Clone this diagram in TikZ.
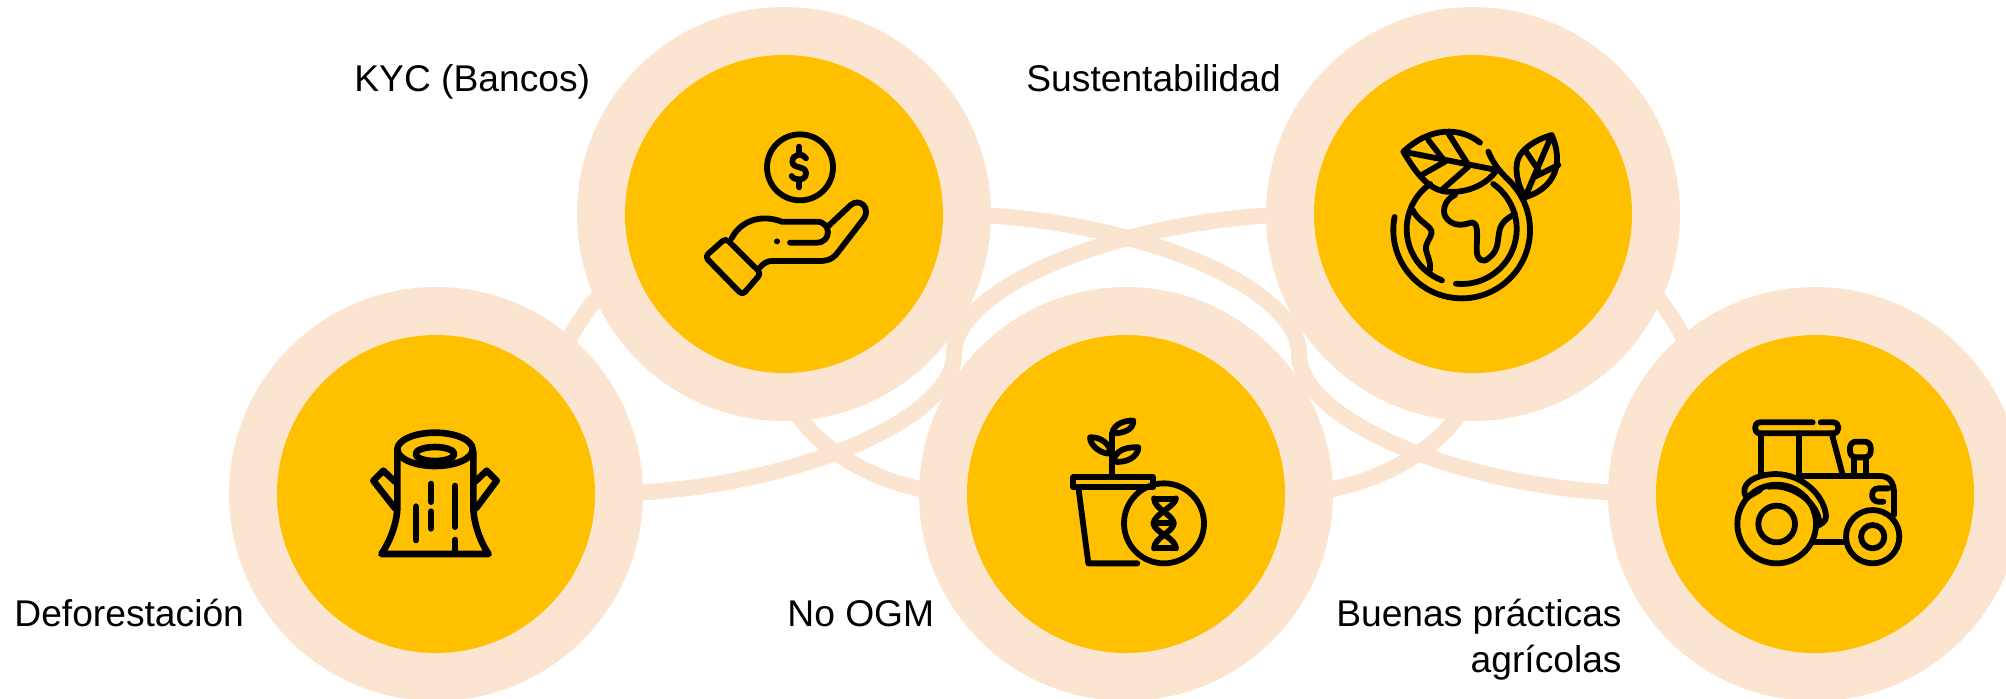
\documentclass[tikz,border=0pt]{standalone}
\usepackage{fontspec}
\setmainfont{Liberation Sans}
\usetikzlibrary{backgrounds}
\definecolor{ringPeach}{HTML}{FBE5D0}
\definecolor{discGold}{HTML}{FFC000}
\tikzstyle{ring} = [
    circle,
    fill=ringPeach,
    inner sep=0pt,
    minimum size=207pt
    ]
\tikzstyle{disc} = [
    circle,
    fill=discGold,
    inner sep=0pt,
    minimum size=159pt
    ]
\tikzstyle{link} = [
    draw=ringPeach,
    line width=8pt
    ]
\tikzstyle{caption} = [
    inner sep=0pt,
    font=\fontsize{18.6}{23}\selectfont
    ]
\tikzstyle{icon} = [
    draw=black,
    line width=2.9pt,
    line cap=round,
    line join=round
    ]
\tikzstyle{iconHeavy} = [
    icon,
    line width=3.3pt
    ]
\begin{document}
\begin{tikzpicture}[x=0.5pt,y=-0.5pt]
  \useasboundingbox (0,0) rectangle (2006,698);
  \node[ring] (deforRing) at (436,494) {};
  \node[ring] (kycRing) at (784,214) {};
  \node[ring] (ogmRing) at (1126,494) {};
  \node[ring] (sustRing) at (1473,214) {};
  \node[ring] (tractorRing) at (1815,494) {};
  \node[disc] (defor) at (deforRing) {};
  \node[disc] (kyc) at (kycRing) {};
  \node[disc] (ogm) at (ogmRing) {};
  \node[disc] (sust) at (sustRing) {};
  \node[disc] (tractor) at (tractorRing) {};
  % connectors stay behind the rings
  \begin{scope}[on background layer]
    \draw[link] (defor.east) .. controls (775,494) and (954,424) .. (954,354)
      .. controls (954,284) and (1134,214) .. (sust.west);
    \draw[link] (kyc.east) .. controls (1123,214) and (1299,284) .. (1299,354)
      .. controls (1299,424) and (1476,494) .. (tractor.west);
    \draw[link] (ogm.west) .. controls (875,494) and (784,433) .. (kyc.south);
    \draw[link] (ogm.east) .. controls (1379,494) and (1473,433) .. (sust.south);
    \draw[link] (defor.45) .. controls (565,345) and (590,290) .. (kyc.200);
    \draw[link] (tractor.135) .. controls (1689,345) and (1664,290) .. (sust.-20);
  \end{scope}
  \node[caption, anchor=base west] (kycText) at (354,91) {KYC (Bancos)};
  \node[caption, anchor=base west] (sustText) at (1026,91) {Sustentabilidad};
  \node[caption, anchor=base west] (deforText) at (14,626) {Deforestación};
  \node[caption, anchor=base west] (ogmText) at (787,626) {No OGM};
  \node[caption, anchor=east, align=right] (tractorText) at (1622,640) {Buenas prácticas\\agrícolas};
  % hand and coin
  \begin{scope}[shift={(660,110)},x=0.16667pt,y=-0.16667pt]
    \draw[icon] (420,172) circle (99);
    \draw[icon] (438,145) .. controls (430,128) and (397,130) .. (397,155)
      .. controls (397,178) and (438,165) .. (438,190)
      .. controls (438,214) and (402,212) .. (395,198);
    \draw[icon] (418,110) -- (418,128);
    \draw[icon] (418,215) -- (418,232);
    \draw[icon, rounded corners=2pt] (135,440) -- (197,385) -- (303,490) -- (247,555) -- cycle;
    \draw[icon] (215,385) .. controls (240,335) and (300,310) .. (365,335) -- (470,335)
      .. controls (515,335) and (515,398) .. (470,398) -- (390,398);
    \fill (351,394) circle (9);
    \draw[icon] (300,472) .. controls (320,450) and (330,453) .. (350,453) -- (480,453)
      .. controls (510,453) and (525,440) .. (535,425) -- (612,325)
      .. controls (632,295) and (600,262) .. (572,285) -- (503,350);
  \end{scope}
  % globe and leaves
  \begin{scope}[shift={(1340,110)},x=0.16667pt,y=-0.16667pt]
    \draw[icon] ([shift={(365,360)}]191:205) arc[start angle=191,end angle=-40,radius=205]
      .. controls (505,205) and (470,185) .. (445,125);
    \draw[icon] ([shift={(365,357)}]96:165) arc[start angle=96,end angle=-55,radius=165];
    \draw[icon] ([shift={(365,357)}]111:165) arc[start angle=111,end angle=235,radius=165];
    \draw[icon] (420,98) .. controls (360,50) and (270,50) .. (190,125)
      .. controls (220,175) and (260,240) .. (320,245)
      .. controls (380,250) and (440,225) .. (470,180) -- (190,125);
    \draw[icon] (265,90) -- (315,155);
    \draw[icon] (325,70) -- (385,165);
    \draw[icon] (245,195) -- (315,155);
    \draw[icon] (305,240) -- (385,170);
    \draw[icon] (555,262) .. controls (530,220) and (520,165) .. (540,135)
      .. controls (560,105) and (600,85) .. (635,75)
      .. controls (660,130) and (670,225) .. (555,262) -- (635,75);
    \draw[icon] (558,125) -- (595,180);
    \draw[icon] (655,165) -- (585,200);
    \draw[icon] (345,255) .. controls (310,270) and (305,310) .. (320,325)
      .. controls (340,350) and (370,345) .. (385,340)
      .. controls (420,325) and (410,380) .. (410,420)
      .. controls (410,450) and (430,460) .. (445,445)
      .. controls (480,420) and (470,390) .. (480,355)
      .. controls (490,330) and (510,320) .. (525,312);
    \draw[icon] (218,300) .. controls (235,335) and (270,345) .. (275,365)
      .. controls (275,385) and (255,395) .. (258,420)
      .. controls (262,440) and (272,450) .. (270,480);
  \end{scope}
  % stump
  \begin{scope}[shift={(350,410)},x=0.16667pt,y=-0.16667pt]
    \draw[iconHeavy] (255,118) ellipse [x radius=113, y radius=50];
    \draw[iconHeavy] (255,132) ellipse [x radius=58, y radius=21];
    \draw[iconHeavy] (142,125) -- (142,290) .. controls (142,340) and (117,400) .. (94,432)
      -- (416,432) .. controls (393,400) and (370,340) .. (370,290) -- (370,125);
    \draw[iconHeavy] (135,215) -- (100,182) -- (70,212) -- (135,295);
    \draw[iconHeavy] (375,215) -- (410,182) -- (440,212) -- (378,295);
    \draw[iconHeavy] (243,222) -- (243,275);
    \draw[iconHeavy] (243,305) -- (243,355);
    \draw[iconHeavy] (198,290) -- (198,390);
    \draw[iconHeavy] (315,228) -- (315,350);
    \draw[iconHeavy] (315,390) -- (315,430);
  \end{scope}
  % pot with plant and dna
  \begin{scope}[shift={(1050,400)},x=0.16667pt,y=-0.16667pt]
    \draw[icon] (70,232) rectangle (310,262);
    \draw[icon] (85,262) -- (115,490) -- (262,490);
    \draw[icon] (342,370) circle (120);
    \draw[icon] (187,232) -- (187,100);
    \draw[icon] (187,100) .. controls (190,70) and (230,60) .. (250,62)
      .. controls (250,90) and (220,100) .. (187,100);
    \draw[icon] (182,160) .. controls (160,165) and (120,140) .. (120,112)
      .. controls (150,110) and (180,130) .. (182,160);
    \draw[icon] (190,185) .. controls (195,150) and (230,140) .. (265,142)
      .. controls (265,170) and (230,190) .. (190,185);
    \draw[icon] (312,295) .. controls (315,330) and (365,340) .. (372,370)
      .. controls (365,400) and (315,410) .. (312,445);
    \draw[icon] (378,295) .. controls (375,320) and (315,340) .. (310,370)
      .. controls (315,400) and (375,410) .. (378,445);
    \draw[icon] (318,297) -- (372,297);
    \draw[icon] (322,370) -- (360,370);
    \draw[icon] (318,443) -- (372,443);
  \end{scope}
  % tractor
  \begin{scope}[shift={(1720,400)},x=0.16667pt,y=-0.16667pt]
    \draw[icon] (278,67) -- (120,67) .. controls (100,67) and (100,100) .. (120,100) -- (340,100)
      .. controls (360,100) and (360,67) .. (340,67) -- (302,67);
    \draw[icon] (123,100) -- (123,225);
    \draw[icon] (238,100) -- (238,228);
    \draw[icon] (335,100) -- (368,225);
    \draw[icon] (240,228) -- (480,228) .. controls (510,228) and (522,250) .. (522,280) -- (522,345);
    \draw[icon] (505,265) -- (475,265) .. controls (450,265) and (450,305) .. (475,305) -- (490,305);
    \draw[icon] (402,225) -- (402,172);
    \draw[icon] (438,172) -- (438,225);
    \draw[icon, rounded corners=3pt] (390,125) rectangle (452,172);
    \draw[icon] (170,372) circle (118);
    \draw[icon] (170,372) circle (55);
    \draw[icon] (458,410) circle (80);
    \draw[icon] (458,410) circle (35);
    \draw[icon] (280,427) -- (378,427);
    \draw[icon] (78,290) .. controls (60,260) and (90,225) .. (165,222)
      .. controls (250,222) and (315,290) .. (318,350)
      .. controls (318,365) and (300,375) .. (290,378);
    \draw[icon] (145,260) .. controls (220,250) and (290,310) .. (297,360);
    \draw[icon] (120,270) -- (85,290);
  \end{scope}
\end{tikzpicture}
\end{document}
